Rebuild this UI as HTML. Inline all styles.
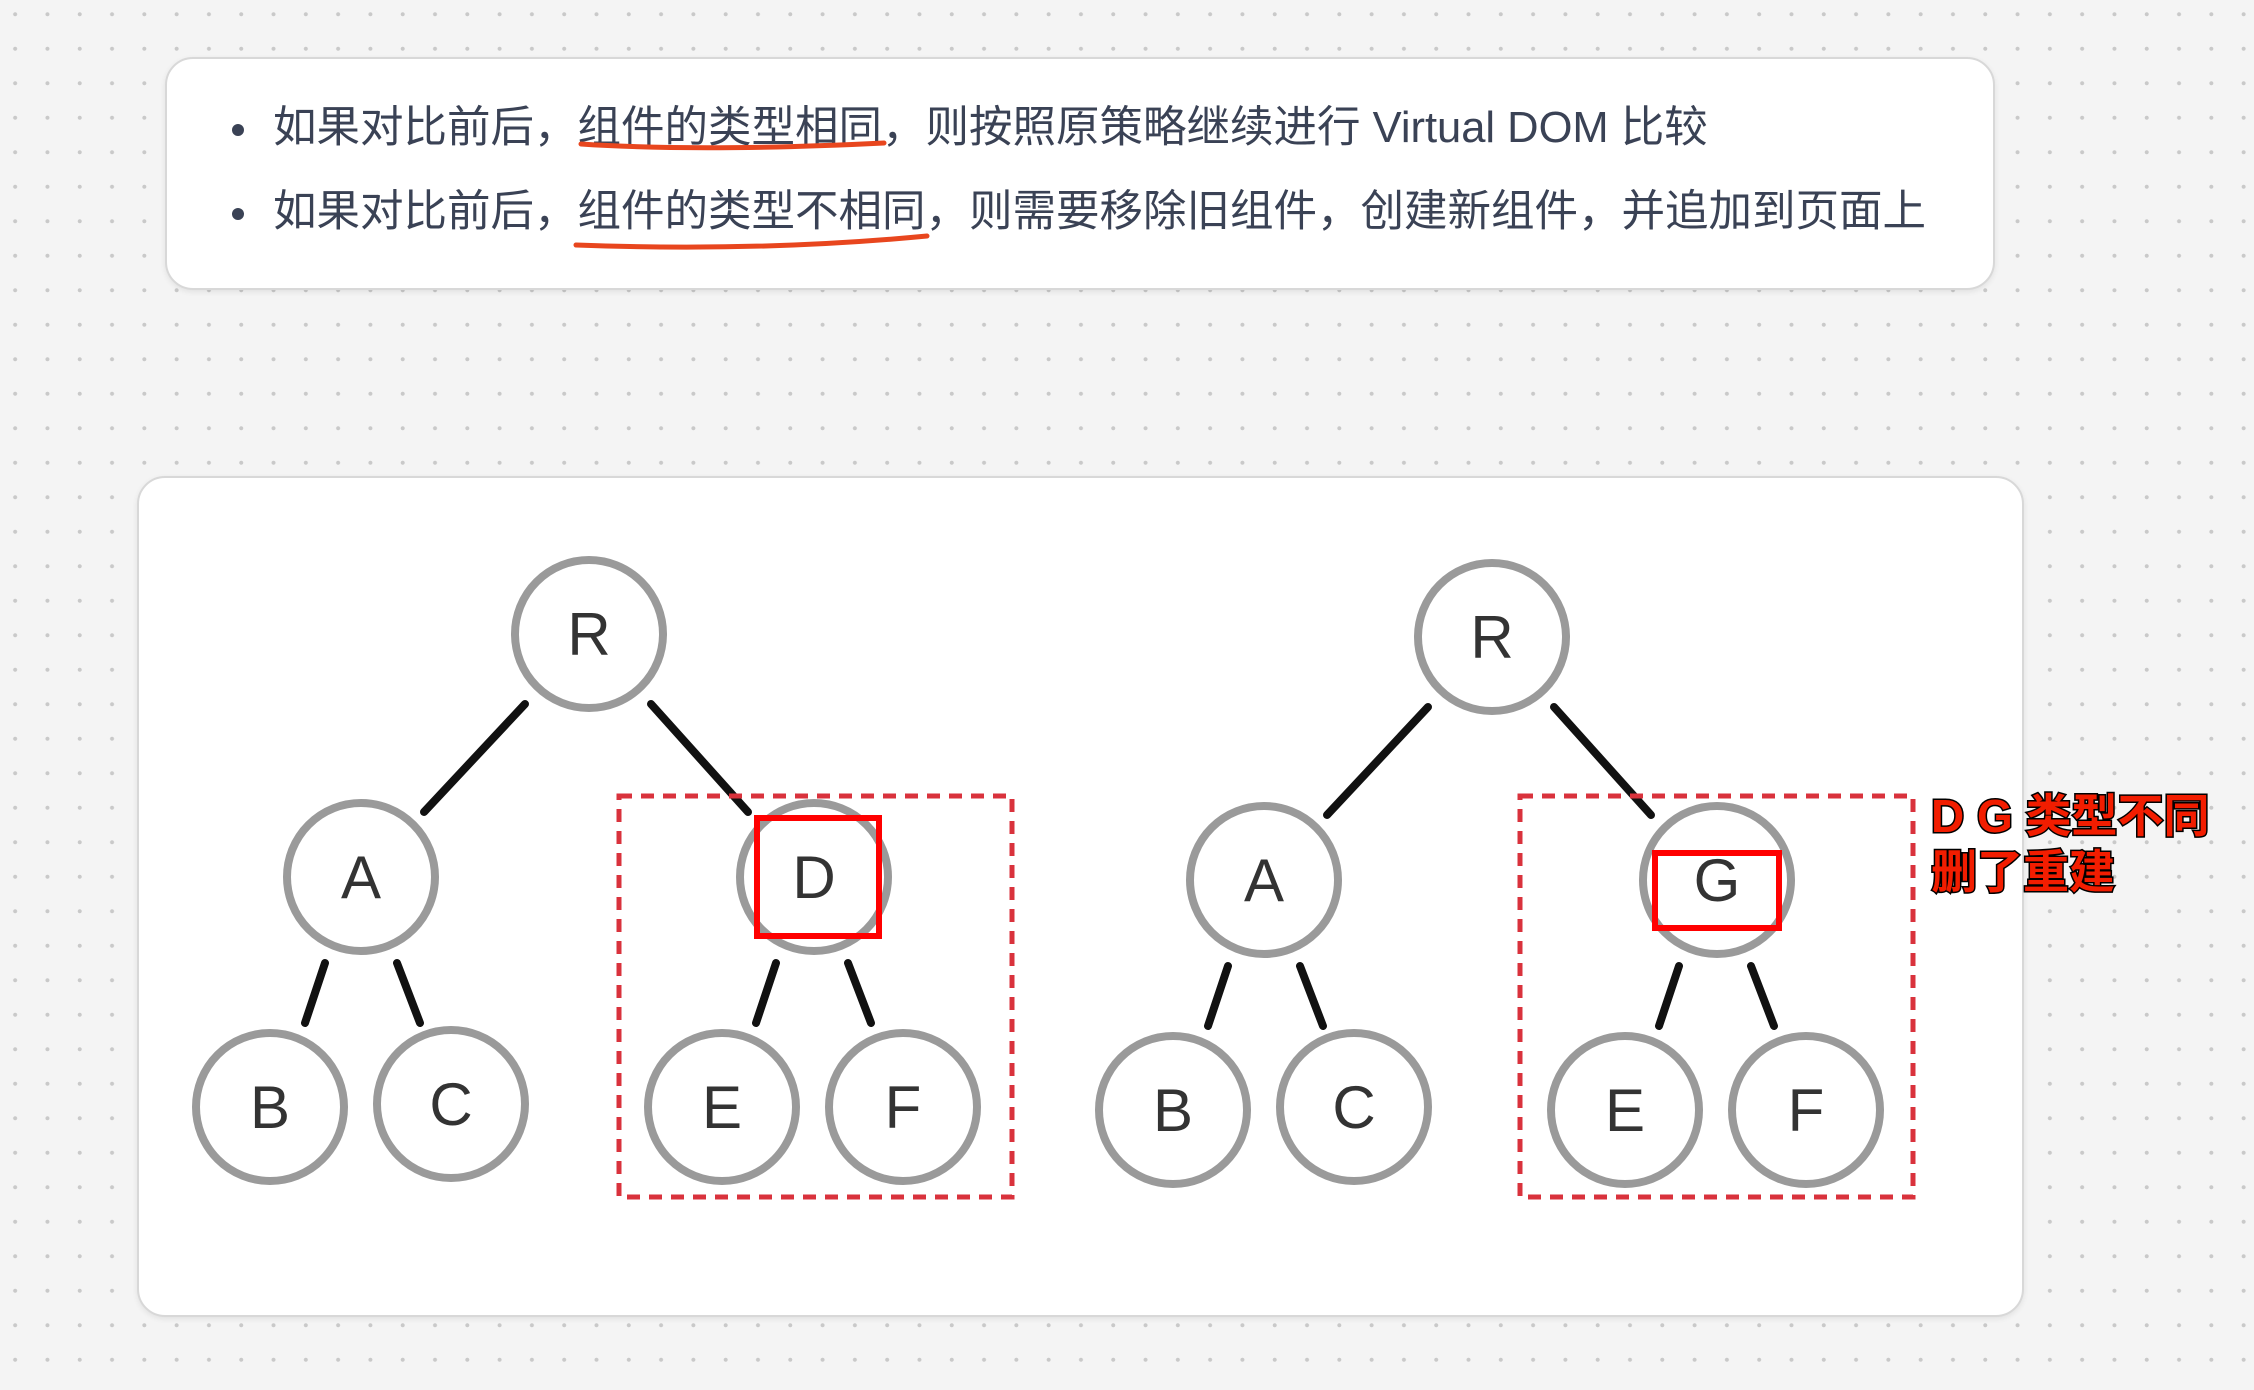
<!DOCTYPE html>
<html><head><meta charset="utf-8"><style>
html,body{margin:0;padding:0;}
body{width:2254px;height:1390px;overflow:hidden;background-color:#f4f4f4;
background-image:radial-gradient(circle,#c9c9c9 1.8px,transparent 2.2px);background-size:32.3px 34.5px;background-position:-1px -3px;position:relative;
font-family:"Liberation Sans","Noto Sans CJK SC",sans-serif;}
.card{position:absolute;background:#fff;border:2px solid #d8d8d8;border-radius:28px;box-shadow:0 2px 6px rgba(0,0,0,0.08);box-sizing:border-box;}
.line{position:absolute;left:273px;font-size:43.5px;color:#3a4255;white-space:nowrap;line-height:1;}
.dot{position:absolute;left:232px;width:12px;height:12px;border-radius:50%;background:#3a4255;}
</style></head><body>
<div class="card" style="left:165px;top:57px;width:1830px;height:233px;"></div>
<div class="dot" style="top:124px"></div>
<div class="dot" style="top:208px"></div>
<div class="line" style="top:107px">如果对比前后，组件的类型相同，则按照原策略继续进行 Virtual DOM 比较</div>
<div class="line" style="top:191px">如果对比前后，组件的类型不相同，则需要移除旧组件，创建新组件，并追加到页面上</div>
<svg style="position:absolute;left:0;top:0" width="2254" height="1390">
<path d="M581 144 Q700 152 884 143" stroke="#e8461e" stroke-width="5" fill="none" stroke-linecap="round"/>
<path d="M576 245 Q760 252 927 236" stroke="#e8461e" stroke-width="5" fill="none" stroke-linecap="round"/>
</svg>
<div class="card" style="left:137px;top:476px;width:1887px;height:841px;"></div>
<svg style="position:absolute;left:0;top:0" width="2254" height="1390" font-family="Liberation Sans, sans-serif">
<g id="t">
<g stroke="#111" stroke-width="8" stroke-linecap="round">
<line x1="525" y1="704" x2="424" y2="812"/>
<line x1="651" y1="704" x2="748" y2="812"/>
<line x1="325" y1="963" x2="305" y2="1023"/>
<line x1="397" y1="963" x2="420" y2="1023"/>
<line x1="776" y1="963" x2="756" y2="1023"/>
<line x1="848" y1="963" x2="871" y2="1023"/>
</g>
<g fill="#fff" stroke="#9a9a9a" stroke-width="8">
<circle cx="589" cy="634" r="74"/>
<circle cx="361" cy="877" r="74"/>
<circle cx="814" cy="877" r="74"/>
<circle cx="270" cy="1107" r="74"/>
<circle cx="451" cy="1104" r="74"/>
<circle cx="722" cy="1107" r="74"/>
<circle cx="903" cy="1107" r="74"/>
</g>
</g>
<use href="#t" transform="translate(903,3)"/>
<g font-size="60" fill="#333" text-anchor="middle">
<text x="589" y="655">R</text><text x="361" y="898">A</text><text x="814" y="898">D</text>
<text x="270" y="1128">B</text><text x="451" y="1125">C</text><text x="722" y="1128">E</text><text x="903" y="1128">F</text>
<text x="1492" y="658">R</text><text x="1264" y="901">A</text><text x="1717" y="901">G</text>
<text x="1173" y="1131">B</text><text x="1354" y="1128">C</text><text x="1625" y="1131">E</text><text x="1806" y="1131">F</text>
</g>
<g fill="none" stroke="#d9323c" stroke-width="5" stroke-dasharray="13 9">
<rect x="619" y="796" width="393" height="401"/>
<rect x="1520" y="796" width="393" height="401"/>
</g>
<g fill="none" stroke="#f00" stroke-width="6">
<rect x="757" y="818" width="122" height="118"/>
<rect x="1655" y="853" width="124" height="75"/>
</g>
<g font-family="Liberation Sans, Noto Sans CJK SC, sans-serif" font-weight="bold" font-size="46" fill="#f21d00" stroke="#000" stroke-width="3" paint-order="stroke">
<text x="1931" y="832">D G 类型不同</text>
<text x="1931" y="888">删了重建</text>
</g>
</svg>
</body></html>
